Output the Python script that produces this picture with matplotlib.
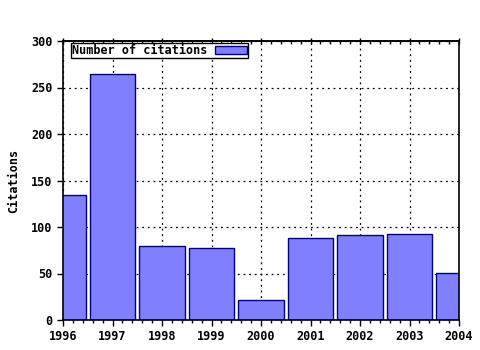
import matplotlib
matplotlib.use("Agg")
import matplotlib.pyplot as plt
from matplotlib.ticker import AutoMinorLocator

years = [1996, 1997, 1998, 1999, 2000, 2001, 2002, 2003, 2004]
citations = [134, 264, 80, 77, 22, 88, 91, 92, 51]
yticks = [0, 50, 100, 150, 200, 250, 300]

plt.rcParams['font.family'] = ['DejaVu Sans Mono']
plt.rcParams['font.weight'] = 'bold'

fig = plt.figure(figsize=(4.8, 3.5), dpi=100)
ax = fig.add_axes([63/480, 1-320/350, (459-63)/480, (320-41)/350])

ax.bar(years, citations, width=0.91, color='#8080ff', edgecolor='#000080',
       linewidth=1.0, label='Number of citations', zorder=2)

ax.set_xlim(1996, 2004)
ax.set_ylim(0, 300)
ax.set_xticks(years)
ax.set_xticklabels([str(y) for y in years])
ax.set_yticks(yticks)
ax.xaxis.set_minor_locator(AutoMinorLocator(5))
ax.grid(True, which='major', linestyle=(0, (1.5, 3)), color='black', linewidth=0.9, zorder=1)
ax.set_axisbelow(True)

ax.tick_params(axis='both', which='major', labelsize=8.5, length=4, width=1, direction='out')
ax.tick_params(axis='x', which='minor', length=2, width=1, direction='out')
secax = ax.secondary_xaxis('top')
secax.set_xticks(years)
secax.set_xticklabels([])
secax.xaxis.set_minor_locator(AutoMinorLocator(5))
secax.tick_params(axis='x', which='major', length=4, width=1, direction='inout')
secax.tick_params(axis='x', which='minor', length=2, width=1, direction='in')

for s in ax.spines.values():
    s.set_linewidth(1.2)
secax.spines['top'].set_linewidth(1.2)

ax.set_ylabel('Citations', fontsize=8.5, fontweight='bold', labelpad=8)

leg = ax.legend(loc='upper left', bbox_to_anchor=(8/396, 1-2/279), fontsize=8.5,
                frameon=True, fancybox=False, edgecolor='black', framealpha=1,
                borderpad=0.1, handlelength=2.7, handleheight=0.6, borderaxespad=0,
                markerfirst=False, handletextpad=0.6)
leg.get_frame().set_linewidth(1.0)
leg.legend_handles[0].set_edgecolor('#000080')

fig.savefig('out.png', dpi=100)
